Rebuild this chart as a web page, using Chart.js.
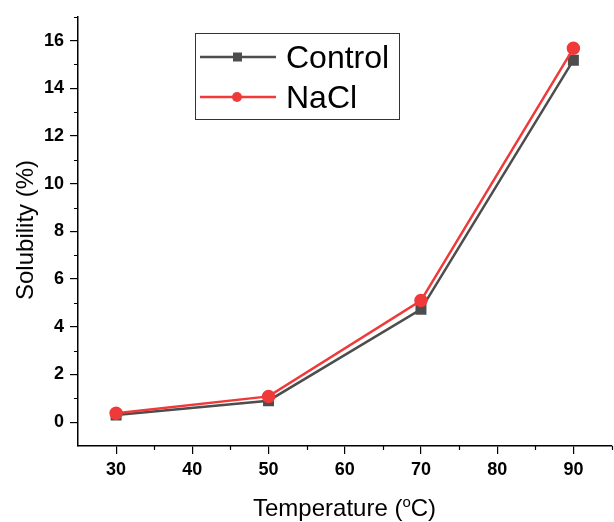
<!DOCTYPE html>
<html>
<head>
<meta charset="utf-8">
<script src="https://cdn.jsdelivr.net/npm/chart.js@4/dist/chart.umd.min.js"></script>
<style>
  html, body { margin: 0; padding: 0; background: #fff; overflow: hidden; }
  #wrap { position: relative; width: 614px; height: 522px; overflow: hidden; }
  #box { position: absolute; left: 0; top: 0; width: 620px; height: 522px; }
  .ttl { position: absolute; font-family: "Liberation Sans", Arial, sans-serif; font-size: 24px; color: #000; white-space: nowrap; }
  #xt { left: 253px; top: 493px; }
  #yt { left: 25px; top: 230px; transform: translate(-50%, -50%) rotate(-90deg); }
  #legend { position: absolute; left: 195px; top: 33px; width: 203px; height: 85px; border: 1.5px solid #333; font-family: "Liberation Sans", Arial, sans-serif; font-size: 32px; }
  .row { position: absolute; left: 3px; height: 38px; display: flex; align-items: center; }
  .row svg { margin-right: 9px; }
</style>
</head>
<body>
<div id="wrap">
  <div id="box"><canvas id="chartCanvas" width="620" height="522"></canvas></div>
  <div class="ttl" id="xt">Temperature (<sup style="font-size:15px">o</sup>C)</div>
  <div class="ttl" id="yt">Solubility (%)</div>
  <div id="legend">
    <div class="row" style="top:4px">
      <svg width="78" height="20"><line x1="1" y1="10" x2="77" y2="10" stroke="#4d4d4d" stroke-width="2.5"/><rect x="34" y="5.5" width="9" height="9" fill="#4d4d4d"/></svg>Control
    </div>
    <div class="row" style="top:44px">
      <svg width="78" height="20"><line x1="1" y1="10" x2="77" y2="10" stroke="#f03a3a" stroke-width="2.5"/><circle cx="38" cy="10" r="5" fill="#f03a3a"/></svg>NaCl
    </div>
  </div>
</div>
<script>
const temps = [30, 50, 70, 90];
const control = [0.30, 0.90, 4.73, 15.18];
const nacl = [0.37, 1.08, 5.10, 15.68];
const xMajor = [30, 40, 50, 60, 70, 80, 90];
const xMinor = [35, 45, 55, 65, 75, 85, 95];
const yMajor = [0, 2, 4, 6, 8, 10, 12, 14, 16];
const yMinor = [1, 3, 5, 7, 9, 11, 13, 15, 17];

const tickFont = { family: '"Liberation Sans", Arial, sans-serif', size: 18, weight: 'bold' };

function pts(vals) {
    return temps.map((t, i) => ({ x: t, y: vals[i] }));
}

// short minor ticks, placed through the scales
const minorTicks = {
    id: 'minorTicks',
    afterDraw(chart) {
        const c = chart.ctx, xs = chart.scales.x, ys = chart.scales.y;
        c.save();
        c.strokeStyle = '#000';
        c.lineWidth = 1.2;
        c.beginPath();
        xMinor.forEach(v => {
            const px = Math.round(xs.getPixelForValue(v)) + 0.5;
            c.moveTo(px, xs.top);
            c.lineTo(px, xs.top + 4);
        });
        yMinor.forEach(v => {
            const py = Math.round(ys.getPixelForValue(v)) + 0.5;
            c.moveTo(ys.right, py);
            c.lineTo(ys.right - 4, py);
        });
        c.stroke();
        c.restore();
    }
};

const ctx = document.getElementById('chartCanvas').getContext('2d');
new Chart(ctx, {
    type: 'line',
    data: {
        datasets: [{
            label: 'NaCl',
            data: pts(nacl),
            borderColor: '#f03a3a',
            backgroundColor: '#f03a3a',
            borderWidth: 2.5,
            pointStyle: 'circle',
            pointRadius: 5.5,
            tension: 0,
            order: 0
        }, {
            label: 'Control',
            data: pts(control),
            borderColor: '#4d4d4d',
            backgroundColor: '#4d4d4d',
            borderWidth: 2.5,
            pointStyle: 'rect',
            pointRadius: 6,
            tension: 0,
            order: 1
        }]
    },
    options: {
        responsive: false,
        animation: false,
        layout: { padding: { top: 16, right: 4, left: 0, bottom: 0 } },
        plugins: { legend: { display: false }, tooltip: { enabled: false } },
        scales: {
            x: {
                type: 'linear',
                min: 25,
                max: 95,
                afterBuildTicks: s => { s.ticks = xMajor.map(v => ({ value: v })); },
                afterFit: s => { s.height = 76; },
                ticks: { autoSkip: false, maxRotation: 0, padding: 5, color: '#000', font: tickFont },
                grid: { drawOnChartArea: false, tickLength: 8, color: '#000', lineWidth: 1.2 },
                border: { color: '#000', width: 1.5 }
            },
            y: {
                min: -1,
                max: 17,
                afterBuildTicks: s => { s.ticks = yMajor.map(v => ({ value: v })); },
                afterFit: s => { s.width = 78; },
                ticks: { autoSkip: false, padding: 6, color: '#000', font: tickFont },
                grid: { drawOnChartArea: false, tickLength: 8, color: '#000', lineWidth: 1.2 },
                border: { color: '#000', width: 1.5 }
            }
        }
    },
    plugins: [minorTicks]
});
</script>
</body>
</html>
